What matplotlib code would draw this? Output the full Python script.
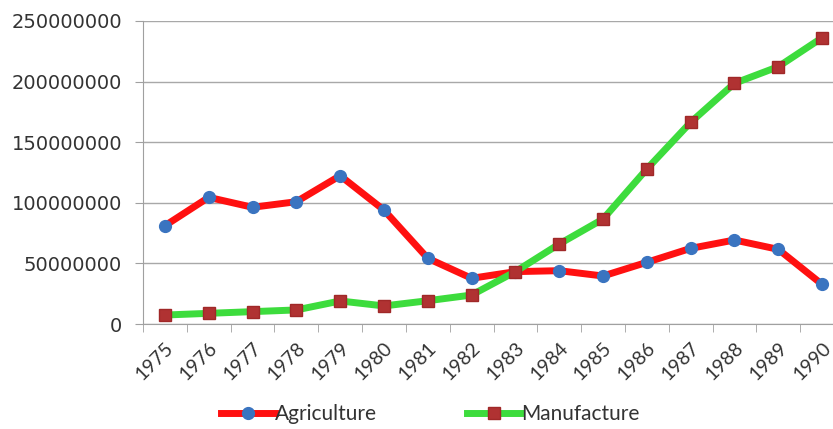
import numpy as np
import matplotlib.pyplot as plt
from matplotlib.ticker import FixedLocator, FuncFormatter

# Datos
anios = ["1975", "1976", "1977", "1978", "1979", "1980", "1981", "1982",
         "1983", "1984", "1985", "1986", "1987", "1988", "1989", "1990"]
agricultura = [81.1e6, 104.5e6, 96.3e6, 100.9e6, 122.4e6, 94.0e6, 54.2e6, 37.7e6,
               43.2e6, 44.0e6, 39.6e6, 50.9e6, 62.4e6, 69.3e6, 61.6e6, 32.7e6]
manufactura = [7.4e6, 8.8e6, 10.2e6, 11.6e6, 19.0e6, 14.9e6, 19.2e6, 23.9e6,
               43.2e6, 66.0e6, 86.6e6, 127.9e6, 166.4e6, 198.6e6, 212.3e6, 236.2e6]
yticks = [0, 50000000, 100000000, 150000000, 200000000, 250000000]

fig = plt.figure(figsize=(8.33, 4.29), dpi=100)
ax = fig.add_axes([143/833, 105/429, 701/833, 303/429])

x = np.arange(len(anios))
ax.plot(x, agricultura, color="#ff1010", lw=5, marker="o", ms=8.5,
        mfc="#3a74c0", mec="#3a74c0", label="Agriculture", zorder=3)
ax.plot(x, manufactura, color="#3ddc3d", lw=5, marker="s", ms=8.5,
        mfc="#b03232", mec="#a02828", label="Manufacture", zorder=4)

ax.set_xlim(-0.5, len(anios) - 0.5)
ax.set_ylim(0, 250000000)

# Eje y
ax.set_yticks(yticks)
ax.yaxis.set_major_formatter(FuncFormatter(lambda v, p: f"{int(v)}"))
ax.tick_params(axis="y", length=6, color="#a0a0a0", pad=9,
               labelsize=14, labelcolor="#333333")
for lab in ax.get_yticklabels():
    lab.set_family("DejaVu Sans")
ax.grid(axis="y", color="#a8a8a8", lw=1)
ax.set_axisbelow(True)

# Eje x: etiquetas en el centro, marcas entre categorías
ax.set_xticks(x)
ax.set_xticklabels(anios, rotation=45, ha="right", rotation_mode="anchor",
                   family="Lato", fontsize=14, color="#333333")
ax.tick_params(axis="x", which="major", length=0, pad=11)
ax.xaxis.set_minor_locator(FixedLocator(np.arange(-0.5, len(anios), 1.0)))
ax.tick_params(axis="x", which="minor", length=6, color="#a0a0a0")

for s in ["top", "right"]:
    ax.spines[s].set_visible(False)
for s in ["left", "bottom"]:
    ax.spines[s].set_color("#a0a0a0")

leg = fig.legend(loc="center", bbox_to_anchor=(430/833, 1 - 414/429), ncol=2,
                 frameon=False, handlelength=2.6, columnspacing=4.3,
                 handletextpad=0.0, prop={"family": "Lato", "size": 15})
for t in leg.get_texts():
    t.set_color("#333333")

fig.savefig("out.png", dpi=100)
